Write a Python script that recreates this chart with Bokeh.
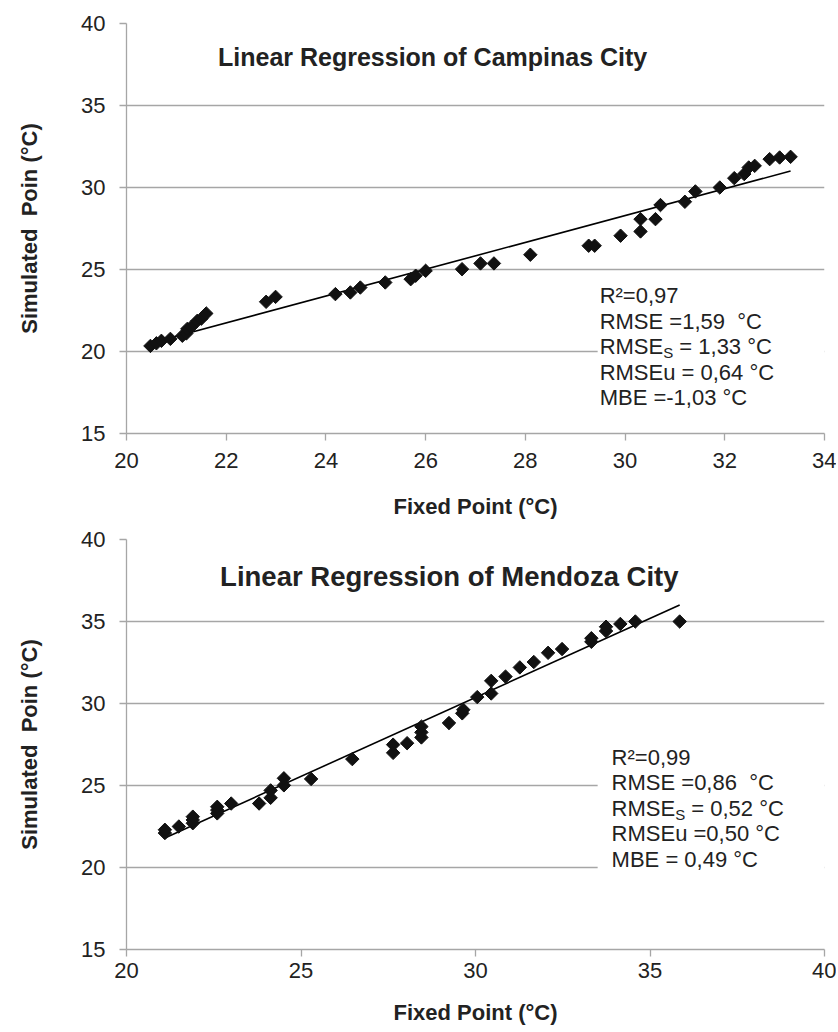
import numpy as np
from bokeh.plotting import figure
from bokeh.layouts import column
from bokeh.models import Range1d, FixedTicker, Label, BoxAnnotation
from bokeh.embed import file_html
from bokeh.resources import INLINE

NB = "\u00a0"

# ---------------- data ----------------
campinas_fixed = [20.48, 20.60, 20.70, 20.88, 21.12, 21.20, 21.22, 21.30, 21.42, 21.50, 21.60,
                  22.80, 22.99, 24.19, 24.49, 24.69, 25.19, 25.70, 25.80, 26.00, 26.73,
                  27.10, 27.37, 28.10, 29.27, 29.39, 29.91, 30.31, 30.31, 30.61, 30.71,
                  31.20, 31.41, 31.90, 32.19, 32.39, 32.48, 32.60, 32.90, 33.10, 33.32]
campinas_sim = [20.34, 20.50, 20.65, 20.77, 20.96, 21.10, 21.38, 21.50, 21.87, 22.00, 22.32,
                23.03, 23.33, 23.50, 23.60, 23.90, 24.21, 24.41, 24.62, 24.92, 25.02,
                25.37, 25.37, 25.90, 26.45, 26.45, 27.06, 27.32, 28.07, 28.07, 28.93,
                29.13, 29.76, 30.00, 30.57, 30.82, 31.22, 31.32, 31.73, 31.83, 31.87]

mendoza_fixed = [21.10, 21.10, 21.50, 21.90, 21.90, 21.90, 22.60, 22.60, 22.60, 23.00, 23.80,
                 24.13, 24.13, 24.51, 24.51, 25.29, 26.47, 27.64, 27.64, 28.04, 28.45,
                 28.45, 28.45, 29.24, 29.62, 29.65, 30.05, 30.45, 30.45, 30.86, 31.27,
                 31.67, 32.08, 32.48, 33.32, 33.32, 33.74, 33.74, 34.15, 34.58, 35.85]
mendoza_sim = [22.10, 22.30, 22.50, 22.70, 22.90, 23.10, 23.30, 23.50, 23.70, 23.90, 23.90,
               24.25, 24.70, 25.01, 25.44, 25.40, 26.61, 26.99, 27.49, 27.58, 27.93,
               28.24, 28.59, 28.81, 29.40, 29.62, 30.39, 30.61, 31.38, 31.64, 32.20,
               32.53, 33.09, 33.32, 33.76, 33.98, 34.42, 34.68, 34.85, 35.00, 35.00]

campinas_xticks = [20, 22, 24, 26, 28, 30, 32, 34]
mendoza_xticks = [20, 25, 30, 35, 40]
y_ticks = [15, 20, 25, 30, 35, 40]

campinas_title = "Linear Regression of Campinas City"
mendoza_title = "Linear Regression of Mendoza City"
x_label = "Fixed Point (°C)"
y_label = "Simulated" + NB + NB + "Poin (°C)"

# stats: plain lines, or (main, subscript, rest)
campinas_stats = ["R²=0,97", "RMSE =1,59" + NB + NB + "°C", ("RMSE", "S", NB + "= 1,33 °C"),
                  "RMSEu = 0,64 °C", "MBE =-1,03 °C"]
mendoza_stats = ["R²=0,99", "RMSE =0,86" + NB + NB + "°C", ("RMSE", "S", NB + "= 0,52 °C"),
                 "RMSEu =0,50 °C", "MBE = 0,49 °C"]

FONT = "Liberation Sans"
GRID = "#a6a6a6"
TXT = "#222222"
FS = 22
FW, FH = 698, 410


def make_chart(xs, ys, xr, xticks, title, stats, b_top, b_bottom, tick_so, lab_so,
               title_xy, title_fs, stats_xy, box):
    p = figure(width=126 + FW + 12, height=b_top + FH + b_bottom,
               frame_width=FW, frame_height=FH,
               x_range=Range1d(*xr), y_range=Range1d(15, 40),
               output_backend="svg", toolbar_location=None,
               min_border_left=126, min_border_right=12,
               min_border_top=b_top, min_border_bottom=b_bottom)
    p.outline_line_color = None
    p.background_fill_color = "white"
    p.border_fill_color = "white"
    p.xgrid.grid_line_color = None
    p.ygrid.grid_line_color = GRID
    p.ygrid.grid_line_width = 1.3
    p.xaxis.ticker = FixedTicker(ticks=xticks)
    p.yaxis.ticker = FixedTicker(ticks=y_ticks)
    for ax in (p.xaxis[0], p.yaxis[0]):
        ax.axis_line_color = GRID
        ax.axis_line_width = 1.3
        ax.major_tick_line_color = GRID
        ax.major_tick_line_width = 1.3
        ax.major_tick_out = 7
        ax.major_tick_in = 0
        ax.minor_tick_out = 0
        ax.minor_tick_in = 0
        ax.major_label_text_font = FONT
        ax.major_label_text_font_size = f"{FS}px"
        ax.major_label_text_color = TXT
        ax.axis_label_text_font = FONT
        ax.axis_label_text_font_size = f"{FS}px"
        ax.axis_label_text_font_style = "bold"
        ax.axis_label_text_color = TXT
    p.xaxis.major_label_standoff = tick_so
    p.yaxis.major_label_standoff = 14
    p.xaxis.axis_label = x_label
    p.yaxis.axis_label = y_label
    p.xaxis.axis_label_standoff = lab_so
    p.yaxis.axis_label_standoff = 36

    ppy = FH / 25.0

    # white box behind the statistics text (hides the grid lines there)
    p.ygrid.level = "underlay"
    p.add_layout(BoxAnnotation(left=box[0], right=xr[1], top=box[1], bottom=box[2],
                               fill_color="white", fill_alpha=1.0,
                               line_color=None, level="underlay"))

    # regression line
    k, b = np.polyfit(xs, ys, 1)
    lx = np.array([min(xs), max(xs)])
    p.line(lx, k * lx + b, line_color="black", line_width=1.6)

    # points
    p.scatter(xs, ys, marker="square", angle=np.pi / 4, size=9.5,
              fill_color="#111111", line_color="#111111")

    # title
    p.add_layout(Label(x=title_xy[0], y=title_xy[1], text=title,
                       text_font=FONT, text_font_size=f"{title_fs}px", text_font_style="bold",
                       text_color=TXT, text_align="center", text_baseline="middle"))

    # stats lines
    sx, sy0, step = stats_xy
    for i, item in enumerate(stats):
        yy = sy0 - i * step / ppy
        common = dict(text_font=FONT, text_color=TXT, text_baseline="middle")
        if isinstance(item, tuple):
            main, sub, rest = item
            w_main = 2.889 * FS
            w_sub = 0.667 * 15
            p.add_layout(Label(x=sx, y=yy, text=main, text_font_size=f"{FS}px", **common))
            p.add_layout(Label(x=sx, y=yy - 6 / ppy, x_offset=w_main, text=sub,
                               text_font_size="15px", **common))
            p.add_layout(Label(x=sx, y=yy, x_offset=w_main + w_sub, text=rest,
                               text_font_size=f"{FS}px", **common))
        else:
            p.add_layout(Label(x=sx, y=yy, text=item, text_font_size=f"{FS}px", **common))
    return p


p1 = make_chart(campinas_fixed, campinas_sim, (20, 34), campinas_xticks, campinas_title,
                campinas_stats, b_top=23, b_bottom=92, tick_so=12, lab_so=23,
                title_xy=(26.14, 37.93), title_fs=25, stats_xy=(29.49, 23.41, 25.5),
                box=(29.45, 24.3, 15.8))
p2 = make_chart(mendoza_fixed, mendoza_sim, (20, 40), mendoza_xticks, mendoza_title,
                mendoza_stats, b_top=14, b_bottom=82, tick_so=6, lab_so=19,
                title_xy=(29.25, 37.75), title_fs=27.5, stats_xy=(33.9, 26.72, 25.5),
                box=(33.5, 28.4, 18.0))

layout = column(p1, p2)
open("out.html", "w").write(file_html(layout, INLINE))
